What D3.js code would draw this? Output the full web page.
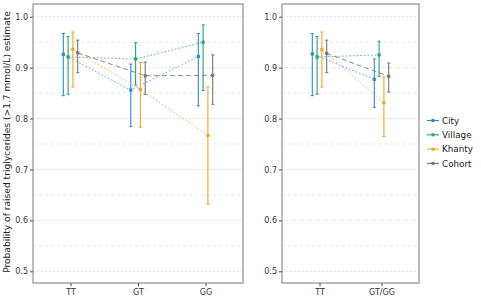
<!DOCTYPE html>
<html lang="en">
<head>
<meta charset="UTF-8">
<title>Triglycerides estimate</title>
<style>
  body { margin: 0; background: #fff; }
  svg text { font-family: "DejaVu Sans", sans-serif; }
</style>
</head>
<body>
<svg id="chart" width="481" height="300"></svg>
<script src="https://cdn.jsdelivr.net/npm/d3@7"></script>
<script>
// data
const groups = ["City", "Village", "Khanty", "Cohort"];
const genoA = ["TT", "GT", "GG"];
const genoB = ["TT", "GT/GG"];
const yTicks = [0.5, 0.6, 0.7, 0.8, 0.9, 1.0];
const yMinor = [0.55, 0.65, 0.75, 0.85, 0.95];

// panel A (TT / GT / GG)
const cityA = [0.926, 0.856, 0.922], cityLoA = [0.845, 0.784, 0.825], cityHiA = [0.967, 0.907, 0.967];
const villageA = [0.921, 0.917, 0.950], villageLoA = [0.848, 0.866, 0.855], villageHiA = [0.961, 0.949, 0.984];
const khantyA = [0.936, 0.857, 0.767], khantyLoA = [0.862, 0.783, 0.632], khantyHiA = [0.970, 0.910, 0.862];
const cohortA = [0.929, 0.884, 0.885], cohortLoA = [0.890, 0.847, 0.828], cohortHiA = [0.954, 0.911, 0.925];

// panel B (TT / GT+GG)
const cityB = [0.927, 0.877], cityLoB = [0.845, 0.822], cityHiB = [0.967, 0.917];
const villageB = [0.921, 0.925], villageLoB = [0.848, 0.883], villageHiB = [0.961, 0.952];
const khantyB = [0.935, 0.831], khantyLoB = [0.862, 0.765], khantyHiB = [0.970, 0.882];
const cohortB = [0.928, 0.883], cohortLoB = [0.890, 0.852], cohortHiB = [0.954, 0.909];

const colors = {City: "#2b8bcb", Village: "#1fa67a", Khanty: "#f2a71b", Cohort: "#777777"};
const dashes = {City: "1.6,2", Village: "1.6,2", Khanty: "1.6,2", Cohort: "5,3"};

function series(cats, est, lo, hi) {
    return cats.map((c, i) => ({cat: c, est: est[i], lo: lo[i], hi: hi[i]}));
}

const panelA = {
    cats: genoA, x0: 33, x1: 243,
    data: {
        City: series(genoA, cityA, cityLoA, cityHiA),
        Village: series(genoA, villageA, villageLoA, villageHiA),
        Khanty: series(genoA, khantyA, khantyLoA, khantyHiA),
        Cohort: series(genoA, cohortA, cohortLoA, cohortHiA)
    }
};
const panelB = {
    cats: genoB, x0: 282, x1: 419,
    data: {
        City: series(genoB, cityB, cityLoB, cityHiB),
        Village: series(genoB, villageB, villageLoB, villageHiB),
        Khanty: series(genoB, khantyB, khantyLoB, khantyHiB),
        Cohort: series(genoB, cohortB, cohortLoB, cohortHiB)
    }
};

const svg = d3.select("#chart");
const panelTop = 4, panelBottom = 283;
const y = d3.scaleLinear().domain([0.477, 1.025]).range([panelBottom, panelTop]);
const dodge = d3.scalePoint().domain(groups).range([-7.2, 7.2]);

function drawPanel(p) {
    const x = d3.scalePoint().domain(p.cats).range([p.x0 + 37.5, p.x1 - 37.5]);
    const g = svg.append("g");

    // grid
    g.selectAll("line.minor").data(yMinor).enter().append("line")
        .attr("x1", p.x0).attr("x2", p.x1)
        .attr("y1", d => y(d)).attr("y2", d => y(d))
        .attr("stroke", "#dbe6f0").attr("stroke-width", 0.8)
        .attr("stroke-dasharray", "3,3");
    g.selectAll("line.major").data(yTicks).enter().append("line")
        .attr("x1", p.x0).attr("x2", p.x1)
        .attr("y1", d => y(d)).attr("y2", d => y(d))
        .attr("stroke", "#dcdcdc").attr("stroke-width", 0.9)
        .attr("stroke-dasharray", "2,2");

    // axes
    const ya = d3.axisLeft(y).tickValues(yTicks).tickFormat(d3.format(".1f")).tickSize(3).tickPadding(2);
    const yg = g.append("g").attr("transform", `translate(${p.x0},0)`).call(ya);
    const xa = d3.axisBottom(x).tickSize(3).tickPadding(3);
    const xg = g.append("g").attr("transform", `translate(0,${panelBottom})`).call(xa);
    [yg, xg].forEach(a => {
        a.select(".domain").remove();
        a.selectAll("line").attr("stroke", "#444");
        a.selectAll("text").attr("fill", "#333").style("font-size", "8px")
            .style("font-family", "'DejaVu Sans', sans-serif");
    });

    const px = (grp, d) => x(d.cat) + dodge(grp);

    // connecting lines
    groups.forEach(grp => {
        const line = d3.line().x(d => px(grp, d)).y(d => y(d.est));
        g.append("path").datum(p.data[grp])
            .attr("d", line).attr("fill", "none")
            .attr("stroke", colors[grp]).attr("stroke-width", 1)
            .attr("stroke-opacity", grp === "Cohort" ? 0.85 : 0.75)
            .attr("stroke-dasharray", dashes[grp]);
    });

    // error bars and points
    groups.forEach(grp => {
        const c = colors[grp];
        const eg = g.append("g").selectAll("g").data(p.data[grp]).enter().append("g");
        eg.append("line")
            .attr("x1", d => px(grp, d)).attr("x2", d => px(grp, d))
            .attr("y1", d => y(d.lo)).attr("y2", d => y(d.hi))
            .attr("stroke", c).attr("stroke-width", 1.1);
        ["lo", "hi"].forEach(k => {
            eg.append("line")
                .attr("x1", d => px(grp, d) - 1.6).attr("x2", d => px(grp, d) + 1.6)
                .attr("y1", d => y(d[k])).attr("y2", d => y(d[k]))
                .attr("stroke", c).attr("stroke-width", 1);
        });
        eg.append("rect")
            .attr("x", d => px(grp, d) - 1.6).attr("y", d => y(d.est) - 1.6)
            .attr("width", 3.2).attr("height", 3.2).attr("fill", c);
    });

    // border
    g.append("rect").attr("x", p.x0).attr("y", panelTop)
        .attr("width", p.x1 - p.x0).attr("height", panelBottom - panelTop)
        .attr("fill", "none").attr("stroke", "#7a7a7a").attr("stroke-width", 1);
}

drawPanel(panelA);
drawPanel(panelB);

// y-axis title
svg.append("text")
    .attr("transform", `translate(10,142) rotate(-90)`)
    .attr("text-anchor", "middle")
    .style("font-size", "9.1px").attr("fill", "#222")
    .text("Probability of raised triglycerides (>1.7 mmol/L) estimate");

// legend
const lg = svg.append("g").selectAll("g").data(groups).enter().append("g")
    .attr("transform", (d, i) => `translate(427,${120.5 + i * 14.3})`);
lg.append("line").attr("x1", 0).attr("x2", 12).attr("y1", 0).attr("y2", 0)
    .attr("stroke", d => colors[d]).attr("stroke-width", 1.1);
lg.append("rect").attr("x", 4.5).attr("y", -1.5).attr("width", 3).attr("height", 3)
    .attr("fill", d => colors[d]);
lg.append("text").attr("x", 15).attr("y", 3.2)
    .style("font-size", "8.8px").attr("fill", "#222")
    .text(d => d);
</script>
</body>
</html>
